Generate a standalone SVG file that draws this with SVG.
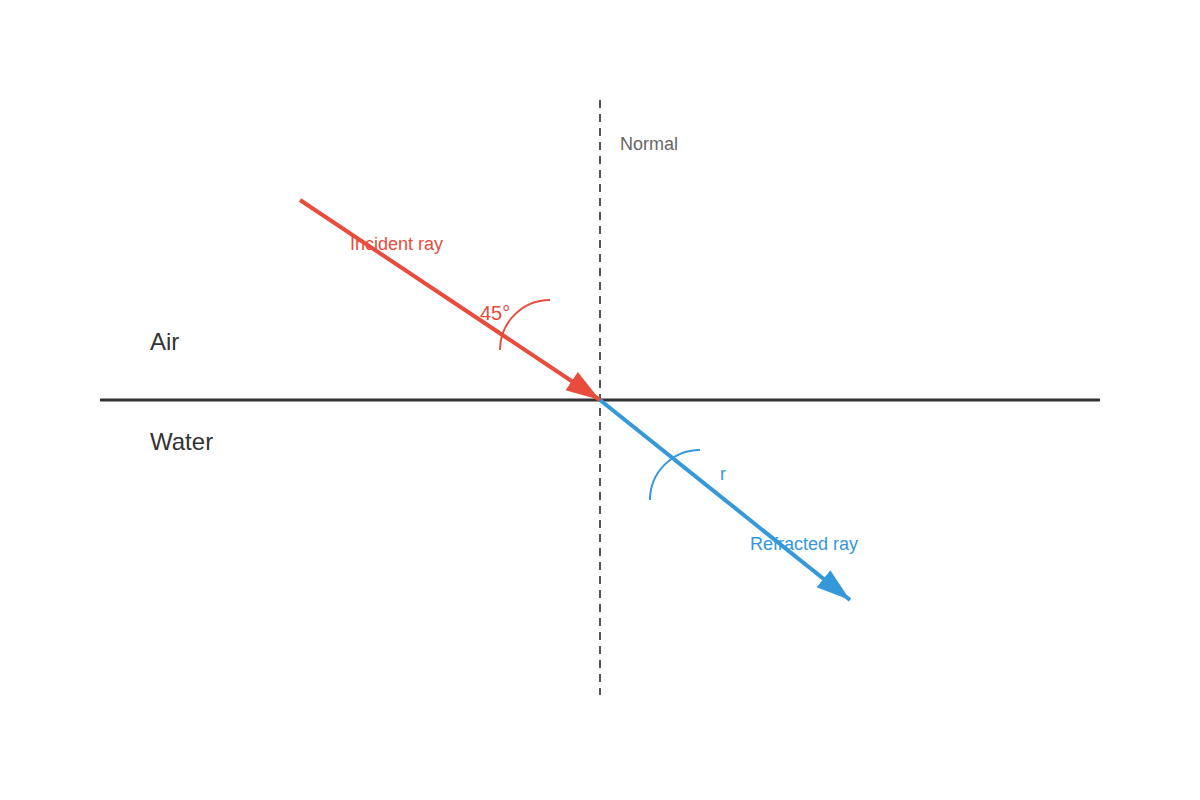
<svg xmlns="http://www.w3.org/2000/svg" width="1200" height="800" viewBox="0 0 1200 800">
<style>
text{font-family:"Liberation Sans",Arial,sans-serif}
.med{fill:#333;font-size:24px}
.red{fill:#e74c3c;font-size:18px}
.ang{fill:#e74c3c;font-size:20px}
.blue{fill:#3498db;font-size:18px}
</style>
<defs>
<marker id="ahR" markerUnits="userSpaceOnUse" markerWidth="36" markerHeight="24" refX="34" refY="12" orient="auto">
<path d="M0,1 L34,12 L0,23 z" fill="#e74c3c"/>
</marker>
<marker id="ahB" markerUnits="userSpaceOnUse" markerWidth="36" markerHeight="24" refX="34" refY="12" orient="auto">
<path d="M0,1 L34,12 L0,23 z" fill="#3498db"/>
</marker>
</defs>
<rect width="1200" height="800" fill="#fff"/>
<g id="interface">
<line x1="100" y1="400" x2="1100" y2="400" stroke="#333" stroke-width="3"/>
<text class="med" x="150" y="350">Air</text>
<text class="med" x="150" y="450">Water</text>
</g>
<g id="normal">
<line x1="600" y1="100" x2="600" y2="695" stroke="#555" stroke-width="2" stroke-dasharray="8,6"/>
<text x="620" y="150" fill="#666" font-size="18">Normal</text>
</g>
<g id="connectors">
<line id="incident" x1="300" y1="200" x2="600" y2="400" stroke="#e74c3c" stroke-width="4" marker-end="url(#ahR)"/>
<line id="refracted" x1="600" y1="400" x2="850" y2="600" stroke="#3498db" stroke-width="4" marker-end="url(#ahB)"/>
</g>
<g id="incident-label">
<text class="red" x="350" y="250">Incident ray</text>
</g>
<g id="angle-i">
<path d="M500,350 A50,50 0 0 1 550,300" fill="none" stroke="#e74c3c" stroke-width="2"/>
<text class="ang" x="480" y="320">45°</text>
</g>
<g id="angle-r">
<path d="M650,500 A50,50 0 0 1 700,450" fill="none" stroke="#3498db" stroke-width="2"/>
<text class="blue" x="720" y="480">r</text>
</g>
<g id="refracted-label">
<text class="blue" x="750" y="550">Refracted ray</text>
</g>
</svg>
